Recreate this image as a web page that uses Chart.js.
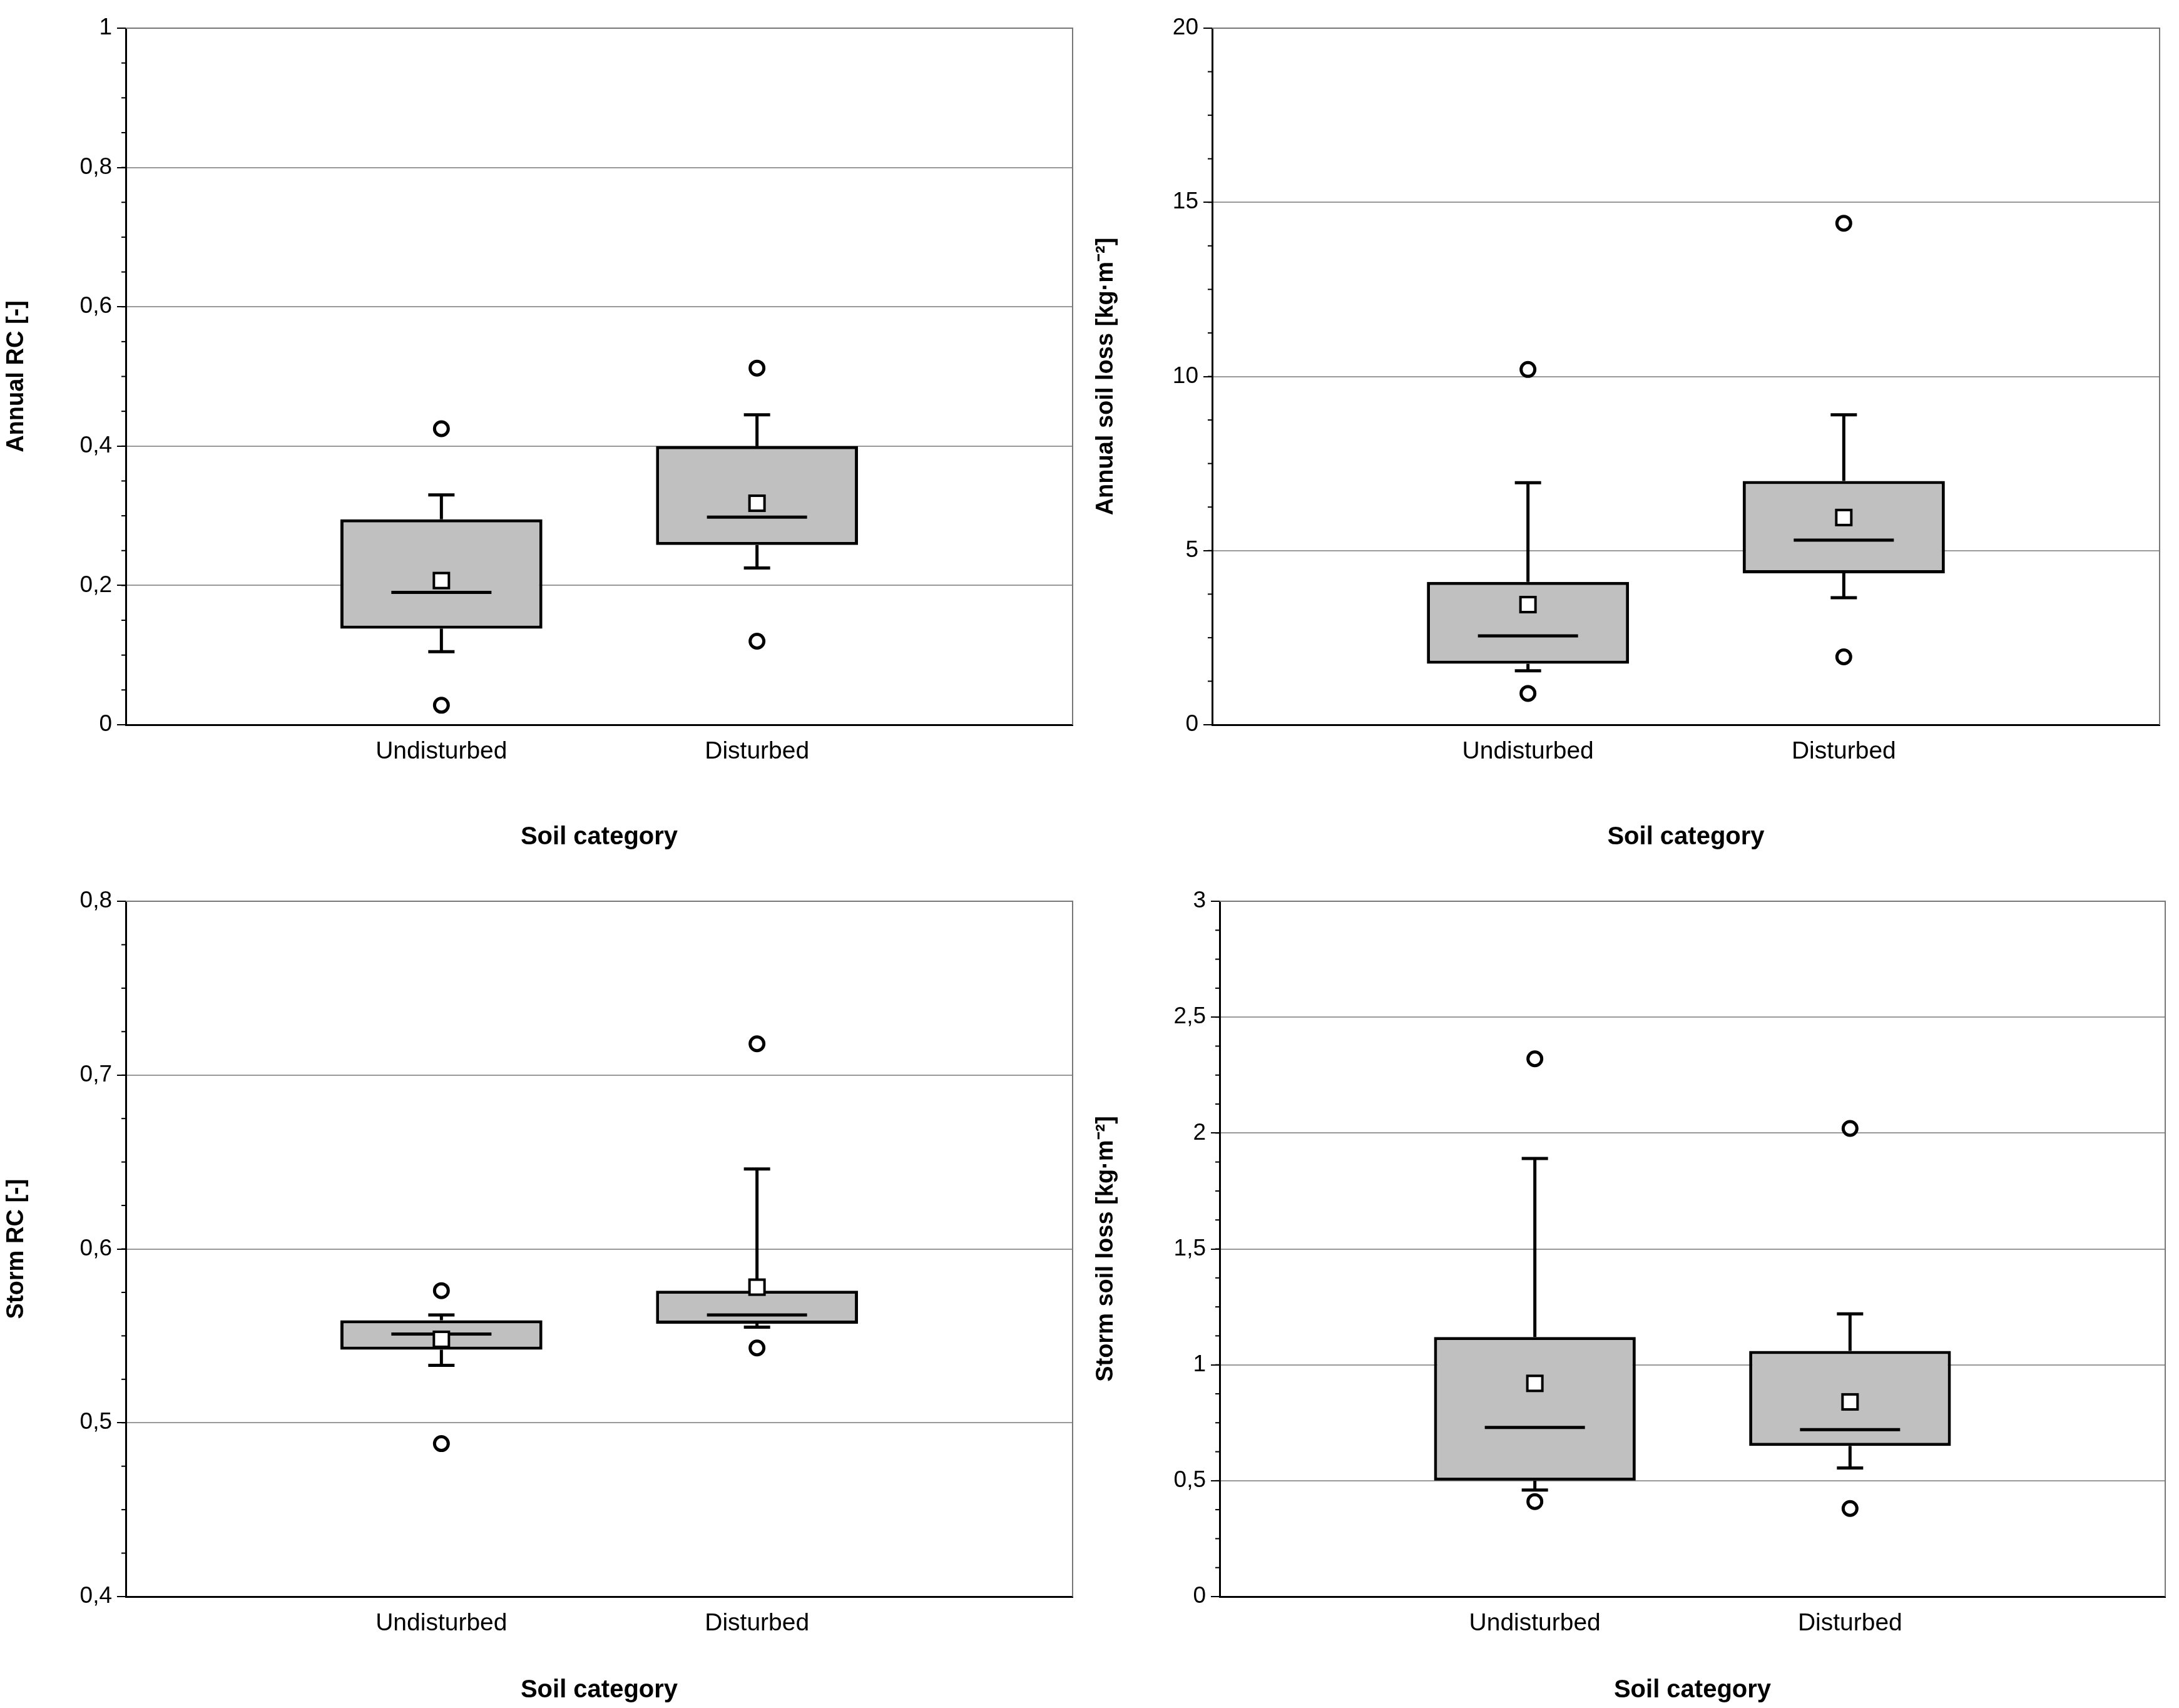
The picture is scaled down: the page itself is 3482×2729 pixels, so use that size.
<!DOCTYPE html>
<html><head><meta charset="utf-8">
<script src="https://cdn.jsdelivr.net/npm/chart.js@4.4.0/dist/chart.umd.min.js"></script>
<style>
body{margin:0;background:#fff;width:3482px;height:2729px;position:relative;overflow:hidden}
.p{position:absolute}
</style></head><body>
<div class="p" style="left:0;top:0;width:1741px;height:1366px"><canvas id="c1"></canvas></div>
<div class="p" style="left:1741px;top:0;width:1741px;height:1366px"><canvas id="c2"></canvas></div>
<div class="p" style="left:0;top:1366px;width:1741px;height:1363px"><canvas id="c3"></canvas></div>
<div class="p" style="left:1741px;top:1366px;width:1741px;height:1363px"><canvas id="c4"></canvas></div>
<script>
// categories: blank slots at the ends keep the two boxes at 1/3 and 2/3 of the axis
const categories = ['', 'Undisturbed', 'Disturbed', ''];

// [Undisturbed, Disturbed]
const annualRC = {
  q1: [0.138, 0.258], median: [0.19, 0.298], q3: [0.295, 0.40],
  whiskerLow: [0.105, 0.225], whiskerHigh: [0.33, 0.445],
  mean: [0.207, 0.318], outLow: [0.028, 0.12], outHigh: [0.425, 0.512]
};
const annualLoss = {
  q1: [1.75, 4.35], median: [2.55, 5.3], q3: [4.1, 7.0],
  whiskerLow: [1.55, 3.65], whiskerHigh: [6.95, 8.9],
  mean: [3.45, 5.95], outLow: [0.9, 1.95], outHigh: [10.2, 14.4]
};
const stormRC = {
  q1: [0.542, 0.557], median: [0.551, 0.562], q3: [0.559, 0.576],
  whiskerLow: [0.533, 0.555], whiskerHigh: [0.562, 0.646],
  mean: [0.548, 0.578], outLow: [0.488, 0.543], outHigh: [0.576, 0.718]
};
const stormLoss = {
  q1: [0.5, 0.65], median: [0.73, 0.72], q3: [1.12, 1.06],
  whiskerLow: [0.46, 0.555], whiskerHigh: [1.89, 1.22],
  mean: [0.92, 0.84], outLow: [0.41, 0.38], outHigh: [2.32, 2.02]
};

const FONT = 'Liberation Sans, Arial, sans-serif';

function fmt(v) {
  return Number(v.toFixed(3)).toString().replace('.', ',');
}

const boxPlugin = {
  id: 'boxMarks',
  afterDatasetsDraw(chart, args, opts) {
    const s = opts.stats, ctx = chart.ctx;
    const x = chart.scales.x, y = chart.scales.y, a = chart.chartArea;
    ctx.save();
    // top/right frame
    ctx.strokeStyle = '#777'; ctx.lineWidth = 2;
    ctx.beginPath();
    ctx.moveTo(a.left, a.top); ctx.lineTo(a.right, a.top); ctx.lineTo(a.right, a.bottom);
    ctx.stroke();
    // minor ticks
    ctx.strokeStyle = '#000'; ctx.lineWidth = 2;
    const step = opts.step / 4;
    for (let v = y.min; v <= y.max + 1e-9; v += step) {
      const py = y.getPixelForValue(v);
      ctx.beginPath(); ctx.moveTo(a.left - 7, py); ctx.lineTo(a.left, py); ctx.stroke();
    }
    ctx.lineWidth = 5; ctx.strokeStyle = '#000';
    for (let i = 0; i < 2; i++) {
      const cx = x.getPixelForValue(i + 1);
      const half = 80, cap = 42;
      const line = (x1, y1, x2, y2) => { ctx.beginPath(); ctx.moveTo(x1, y1); ctx.lineTo(x2, y2); ctx.stroke(); };
      const pq1 = y.getPixelForValue(s.q1[i]), pq3 = y.getPixelForValue(s.q3[i]);
      const pl = y.getPixelForValue(s.whiskerLow[i]), ph = y.getPixelForValue(s.whiskerHigh[i]);
      line(cx, pq1, cx, pl); line(cx - cap / 2, pl, cx + cap / 2, pl);
      line(cx, pq3, cx, ph); line(cx - cap / 2, ph, cx + cap / 2, ph);
      const pm = y.getPixelForValue(s.median[i]);
      line(cx - half, pm, cx + half, pm);
      // outliers
      ctx.fillStyle = '#fff';
      [s.outLow[i], s.outHigh[i]].forEach(v => {
        ctx.beginPath(); ctx.arc(cx, y.getPixelForValue(v), 11, 0, Math.PI * 2);
        ctx.fill(); ctx.stroke();
      });
      // mean
      const py = y.getPixelForValue(s.mean[i]);
      ctx.lineWidth = 4;
      ctx.fillRect(cx - 12, py - 12, 24, 24);
      ctx.strokeRect(cx - 12, py - 12, 24, 24);
      ctx.lineWidth = 5;
    }
    ctx.restore();
  }
};

function makeChart(id, stats, yTitle, yMin, yMax, step, layout) {
  new Chart(document.getElementById(id), {
    type: 'bar',
    data: {
      labels: categories,
      datasets: [{
        data: categories.map((c, i) => (i === 0 || i === 3) ? null : [stats.q1[i - 1], stats.q3[i - 1]]),
        backgroundColor: '#c0c0c0',
        borderColor: '#000',
        borderWidth: 5,
        borderSkipped: false,
        barPercentage: 0.64,
        categoryPercentage: 1
      }]
    },
    options: {
      responsive: true, maintainAspectRatio: false, animation: false,
      layout: { padding: { top: layout.top, right: layout.right, left: 0, bottom: 0 } },
      plugins: {
        legend: { display: false }, tooltip: { enabled: false },
        boxMarks: { stats: stats, step: step }
      },
      scales: {
        x: {
          offset: false,
          grid: { display: false, drawTicks: false },
          border: { color: '#000', width: 3 },
          ticks: { color: '#000', font: { family: FONT, size: 39 }, padding: 20, maxRotation: 0, autoSkip: false },
          title: { display: true, text: 'Soil category', color: '#000', font: { family: FONT, size: 40, weight: 'bold' }, padding: { top: 26 } },
          afterFit(sc) { sc.height = layout.xh; }
        },
        y: {
          min: yMin, max: yMax,
          grid: { color: '#999', lineWidth: 2, tickLength: 14, tickColor: '#000' },
          border: { color: '#000', width: 3 },
          ticks: { stepSize: step, color: '#000', font: { family: FONT, size: 37 }, padding: 8, callback: v => fmt(v) },
          title: { display: true, text: yTitle, color: '#000', font: { family: FONT, size: 38, weight: 'bold' }, padding: { bottom: 22 } },
          afterFit(sc) { sc.width = layout.yw; }
        }
      }
    },
    plugins: [boxPlugin]
  });
}

makeChart('c1', annualRC, 'Annual RC [-]', 0, 1, 0.2, { top: 45, right: 27, yw: 201, xh: 208 });
makeChart('c2', annualLoss, 'Annual soil loss [kg·m\u207B\u00B2]', 0, 20, 5, { top: 45, right: 31, yw: 196, xh: 208 });
makeChart('c3', stormRC, 'Storm RC [-]', 0.4, 0.8, 0.1, { top: 74, right: 27, yw: 201, xh: 178 });
makeChart('c4', stormLoss, 'Storm soil loss [kg·m\u207B\u00B2]', 0, 3, 0.5, { top: 74, right: 22, yw: 208, xh: 178 });
</script>
</body></html>
